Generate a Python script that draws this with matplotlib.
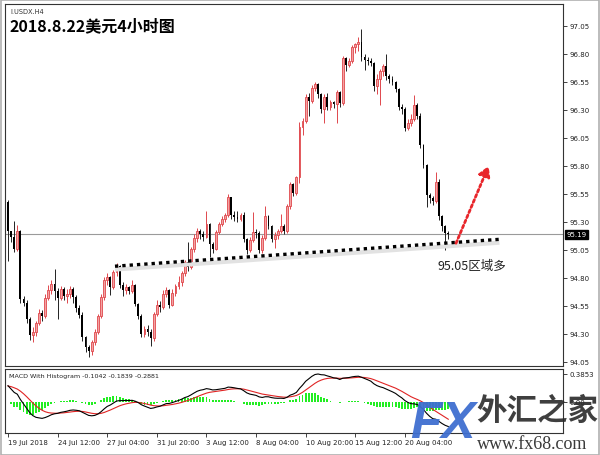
import matplotlib.pyplot as plt
import matplotlib.transforms as mtransforms
from matplotlib.patches import Rectangle
import numpy as np

plt.rcParams['font.family'] = ['DejaVu Sans', 'Noto Sans CJK SC']

# USDX H4 bars (open = previous close)
first_open = 95.48
closes = [95.22, 95.17, 95.06, 95.22, 94.61, 94.58, 94.43, 94.29, 94.32, 94.40,
          94.49, 94.46, 94.62, 94.69, 94.75, 94.68, 94.62, 94.70, 94.64, 94.66,
          94.70, 94.63, 94.53, 94.47, 94.27, 94.18, 94.15, 94.23, 94.32, 94.46,
          94.63, 94.78, 94.81, 94.72, 94.85, 94.91, 94.74, 94.69, 94.72, 94.68,
          94.74, 94.57, 94.46, 94.30, 94.34, 94.32, 94.26, 94.48, 94.56, 94.54,
          94.66, 94.69, 94.56, 94.67, 94.73, 94.76, 94.84, 94.94, 94.90, 95.06,
          95.16, 95.22, 95.19, 95.17, 95.28, 95.10, 95.06, 95.21, 95.28, 95.33,
          95.36, 95.52, 95.36, 95.34, 95.33, 95.36, 95.15, 95.05, 95.14, 95.21,
          95.20, 95.05, 95.16, 95.35, 95.26, 95.15, 95.18, 95.22, 95.26, 95.22,
          95.44, 95.64, 95.56, 95.70, 96.15, 96.20, 96.42, 96.38, 96.50, 96.53,
          96.44, 96.31, 96.42, 96.33, 96.37, 96.35, 96.46, 96.36, 96.76, 96.70,
          96.74, 96.86, 96.89, 96.91, 96.77, 96.75, 96.74, 96.72, 96.51, 96.58,
          96.65, 96.69, 96.60, 96.58, 96.55, 96.49, 96.33, 96.31, 96.14, 96.18,
          96.22, 96.34, 96.25, 95.99, 95.81, 95.54, 95.51, 95.49, 95.66, 95.35,
          95.26, 95.20, 95.19]
highs = [95.50, 95.22, 95.31, 95.27, 95.23, 94.64, 94.60, 94.45, 94.36, 94.42,
         94.52, 94.51, 94.66, 94.74, 94.78, 94.88, 94.71, 94.73, 94.72, 94.70,
         94.73, 94.72, 94.65, 94.56, 94.50, 94.28, 94.20, 94.25, 94.34, 94.48,
         94.66, 94.81, 94.84, 94.82, 94.87, 94.93, 94.92, 94.76, 94.75, 94.73,
         94.78, 94.75, 94.58, 94.48, 94.37, 94.38, 94.34, 94.50, 94.60, 94.59,
         94.69, 94.72, 94.70, 94.70, 94.75, 94.82, 94.86, 94.96, 95.12, 95.08,
         95.19, 95.25, 95.24, 95.22, 95.40, 95.29, 95.12, 95.23, 95.30, 95.35,
         95.38, 95.55, 95.52, 95.40, 95.40, 95.38, 95.39, 95.16, 95.17, 95.39,
         95.24, 95.22, 95.18, 95.44, 95.36, 95.27, 95.21, 95.24, 95.37, 95.28,
         95.46, 95.66, 95.65, 95.71, 96.19, 96.23, 96.44, 96.45, 96.52, 96.55,
         96.54, 96.45, 96.44, 96.45, 96.39, 96.38, 96.48, 96.47, 96.78, 96.77,
         96.76, 96.88, 96.90, 96.95, 97.02, 96.80, 96.77, 96.76, 96.73, 96.62,
         96.67, 96.71, 96.80, 96.62, 96.60, 96.56, 96.50, 96.35, 96.33, 96.22,
         96.26, 96.43, 96.36, 96.27, 96.00, 95.82, 95.56, 95.53, 95.75, 95.68,
         95.36, 95.27, 95.22]
lows = [94.95, 95.12, 95.03, 95.04, 94.58, 94.55, 94.40, 94.25, 94.23, 94.28,
        94.38, 94.42, 94.44, 94.60, 94.66, 94.60, 94.43, 94.60, 94.60, 94.58,
        94.62, 94.58, 94.50, 94.44, 94.24, 94.14, 94.09, 94.11, 94.20, 94.30,
        94.44, 94.60, 94.74, 94.65, 94.70, 94.82, 94.71, 94.64, 94.66, 94.66,
        94.67, 94.55, 94.43, 94.27, 94.27, 94.28, 94.19, 94.24, 94.46, 94.50,
        94.52, 94.63, 94.53, 94.55, 94.64, 94.70, 94.73, 94.82, 94.86, 94.88,
        95.03, 95.12, 95.15, 95.13, 95.16, 94.99, 95.02, 95.05, 95.19, 95.26,
        95.30, 95.34, 95.33, 95.31, 95.30, 95.31, 95.12, 95.01, 95.03, 95.12,
        95.16, 95.02, 95.02, 95.14, 95.24, 95.12, 95.07, 95.15, 95.20, 95.19,
        95.20, 95.42, 95.53, 95.54, 95.65, 96.08, 96.18, 96.25, 96.36, 96.47,
        96.41, 96.27, 96.18, 96.30, 96.30, 96.32, 96.18, 96.33, 96.34, 96.65,
        96.68, 96.72, 96.81, 96.83, 96.74, 96.66, 96.70, 96.69, 96.47, 96.44,
        96.34, 96.60, 96.57, 96.54, 96.52, 96.46, 96.30, 96.26, 96.11, 96.12,
        96.16, 96.20, 96.22, 95.96, 95.78, 95.43, 95.47, 95.45, 95.47, 95.32,
        95.22, 95.05, 95.15]

time_labels = ['19 Jul 2018', '24 Jul 12:00', '27 Jul 04:00', '31 Jul 20:00',
               '3 Aug 12:00', '8 Aug 04:00', '10 Aug 20:00', '15 Aug 12:00',
               '20 Aug 04:00']
price_ticks = [94.05, 94.30, 94.55, 94.80, 95.05, 95.30, 95.55, 95.80,
               96.05, 96.30, 96.55, 96.80, 97.05]
last_price = 95.19

# MACD(12,26,9) from the closes, EMAs seeded at the level before the window
fast_seed, slow_seed, signal_seed = 95.55, 95.30, 0.20

closes = np.array(closes)
opens = np.concatenate([[first_open], closes[:-1]])
highs = np.array(highs)
lows = np.array(lows)
n = len(closes)
xs = np.arange(n)


def ema(vals, period, seed):
    a = 2.0 / (period + 1)
    out = []
    e = seed
    for v in vals:
        e = e + a * (v - e)
        out.append(e)
    return np.array(out)


macd = ema(closes, 12, fast_seed) - ema(closes, 26, slow_seed)
signal = ema(macd, 9, signal_seed)
hist = macd - signal

fig = plt.figure(figsize=(6, 4.56), dpi=100)
ax = fig.add_axes([5 / 600, 1 - 367 / 456, 558 / 600, 362 / 456])
axm = fig.add_axes([5 / 600, 1 - 434 / 456, 558 / 600, 64 / 456])

# candles
up = closes >= opens
bull_edge, bull_face = '#e0474c', '#f3a3a3'
for i in range(n):
    if up[i]:
        ax.vlines(i, lows[i], highs[i], color=bull_edge, lw=0.7, zorder=2)
        ax.bar(i, max(closes[i] - opens[i], 0.01), bottom=opens[i], width=0.6,
               color=bull_face, edgecolor=bull_edge, lw=0.6, zorder=3)
    else:
        ax.vlines(i, lows[i], highs[i], color='#222222', lw=0.7, zorder=2)
        ax.bar(i, max(opens[i] - closes[i], 0.01), bottom=closes[i],
               width=0.6, color='black', lw=0, zorder=3)

ax.axhline(last_price, color='#9a9a9a', lw=0.8, zorder=1)

# support line with its shadow
ax.plot([34.5, 158.5], [94.875, 95.115], color='#e2e2e2', lw=3, zorder=4,
        solid_capstyle='butt')
ax.plot([34.5, 158.5], [94.905, 95.145], color='black', lw=2.4,
        linestyle=(0, (1, 1.2)), dash_capstyle='butt', zorder=5)

# red dotted arrow
ax.annotate('', xy=(155.0, 95.80), xytext=(144.5, 95.11),
            arrowprops=dict(arrowstyle='-|>,head_length=0.6,head_width=0.35',
                            color='#e8262b', lw=2.0, linestyle=(0, (1, 1)),
                            shrinkA=0, shrinkB=0), zorder=6)
ax.text(149.5, 94.915, '95.05区域多', fontsize=9, color='#222222', ha='center',
        va='center', family=['Noto Sans CJK SC', 'DejaVu Sans'])

ax.set_xlim(-0.97, 179)
ax.set_ylim(94.014, 97.246)
ax.yaxis.tick_right()
ax.set_yticks(price_ticks)
ax.set_yticklabels(['%.2f' % p for p in price_ticks])
ax.tick_params(axis='y', labelsize=5, length=3, width=0.6, pad=1.5,
               colors='#222222')
ax.set_xticks([])
for s in ax.spines.values():
    s.set_color('#333333')
    s.set_linewidth(0.8)

tr = mtransforms.blended_transform_factory(ax.transAxes, ax.transData)
ax.text(1.006, last_price, '95.19', transform=tr, fontsize=5, color='white',
        va='center', ha='left',
        bbox=dict(facecolor='black', edgecolor='black', pad=1.0))

fig.text(10 / 600, 1 - 12 / 456, 'I.USDX.H4', fontsize=4.8, color='#333333',
         va='center')
fig.text(10 / 600, 1 - 26 / 456, '2018.8.22美元4小时图', fontsize=11.5,
         weight='bold', va='center', color='black',
         family=['Noto Sans CJK SC', 'DejaVu Sans'])

# MACD panel, scaled like the terminal: the highest value sits near the top
top_val = max(macd.max(), signal.max())
unit = 28.0 / top_val          # pixels per unit, zero 28 px below the top value
axm.bar(xs, hist, width=0.6, color='#22ee22', lw=0, zorder=2)
axm.plot(xs, signal, color='#e02424', lw=0.8, zorder=3)
axm.plot(xs, macd, color='black', lw=0.8, zorder=4)
axm.set_xlim(-0.97, 179)
axm.set_ylim(-31.0 / unit, 33.0 / unit)
axm.yaxis.tick_right()
axm.set_yticks([top_val, 0.0])
axm.set_yticklabels(['0.3853', '0.00'])
axm.tick_params(axis='y', labelsize=5, length=3, width=0.6, pad=1.5,
                colors='#222222')
axm.set_xticks(np.arange(0, 16 * len(time_labels), 16))
axm.set_xticklabels(time_labels, ha='left')
axm.tick_params(axis='x', labelsize=5, length=3, width=0.6, pad=1.5,
                colors='#222222')
for s in axm.spines.values():
    s.set_color('#333333')
    s.set_linewidth(0.8)
axm.text(0.008, 0.9, 'MACD With Histogram -0.1042 -0.1839 -0.2881',
         transform=axm.transAxes, fontsize=4.6, color='#222222', va='center')

# watermark
fig.text(410 / 600, 1 - 425 / 456, 'FX', fontsize=37, weight='bold',
         style='italic', color='#3f6fd0', va='center', alpha=0.95,
         family=['Liberation Sans'])
fig.text(476 / 600, 1 - 411 / 456, '外汇之家', fontsize=22, weight='bold',
         color='#2a2a2a', va='center', alpha=0.9,
         family=['Noto Sans CJK SC'])
fig.text(477 / 600, 1 - 445 / 456, 'www.fx68.com', fontsize=13,
         color='#3a3a3a', va='center', family=['Liberation Serif'])

fig.patches.append(Rectangle((0.001, 0.001), 0.997, 0.997,
                             transform=fig.transFigure, fill=False,
                             edgecolor='#b0b0b0', lw=1.2))

fig.savefig('out.png', dpi=100)
